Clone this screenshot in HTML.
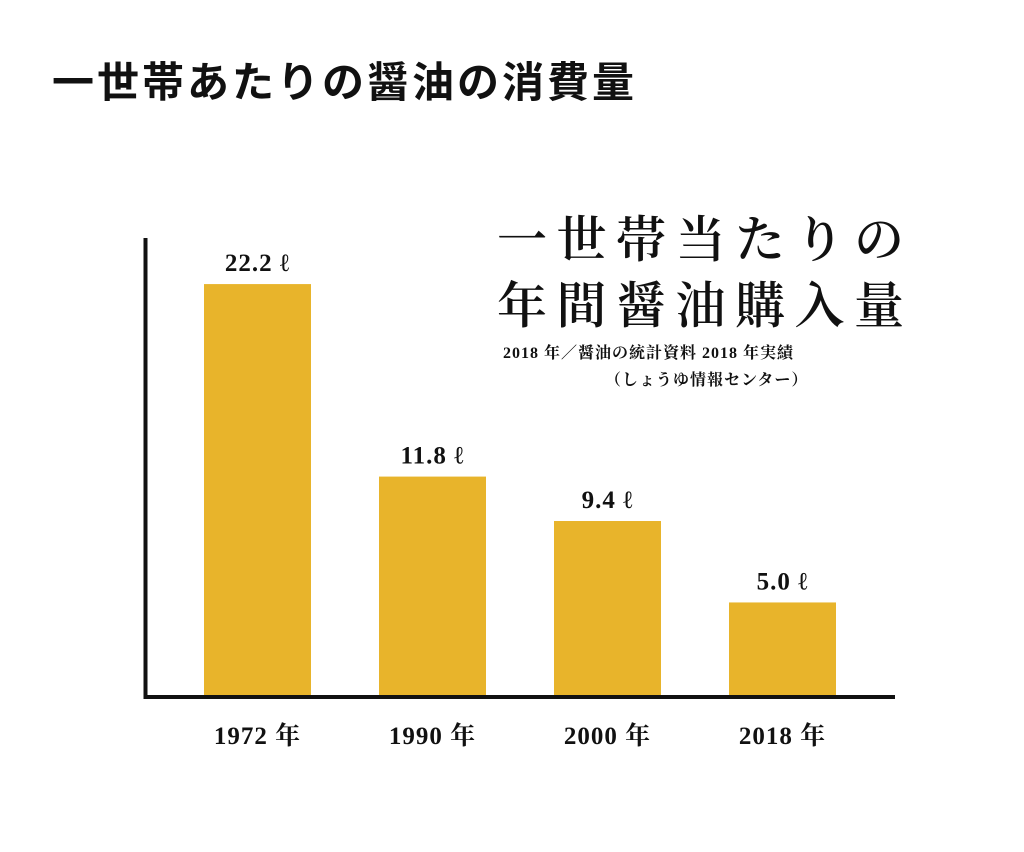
<!DOCTYPE html>
<html><head><meta charset="utf-8"><style>
body{margin:0;background:#fff;width:1024px;height:852px;overflow:hidden}
svg{display:block}
.serif{font-family:"Liberation Serif","Noto Serif CJK SC",serif;font-weight:bold;fill:#111}
</style></head><body>
<svg id="chart" width="1024" height="852" viewBox="0 0 1024 852">
<text x="52" y="97" font-family="Liberation Sans,'Noto Sans CJK JP',sans-serif" font-weight="bold" font-size="42" letter-spacing="3" fill="#111">一世帯あたりの醤油の消費量</text>
<text x="497" y="257" font-family="'Noto Serif CJK SC',serif" font-weight="600" font-size="50" letter-spacing="9.5" fill="#111">一世帯当たりの</text>
<text x="497" y="323" font-family="'Noto Serif CJK SC',serif" font-weight="600" font-size="50" letter-spacing="9.5" fill="#111">年間醤油購入量</text>
<text x="503" y="358" class="serif" font-size="16" letter-spacing="1">2018 年／醤油の統計資料 2018 年実績</text>
<text x="605" y="385" class="serif" font-size="16" letter-spacing="1">（しょうゆ情報センター）</text>
<g id="bars"></g>
<line x1="145.5" y1="238" x2="145.5" y2="699" stroke="#111" stroke-width="4"/>
<line x1="144" y1="697" x2="895" y2="697" stroke="#111" stroke-width="4"/>
</svg>
<script>
const categories=["1972 年","1990 年","2000 年","2018 年"];
const values=[22.2,11.8,9.4,5.0];
const valueLabels=["22.2 ℓ","11.8 ℓ","9.4 ℓ","5.0 ℓ"];
const NS="http://www.w3.org/2000/svg";
const base=695, scale=18.51;
const xBand=i=>204+i*175, bw=107;
const y=v=>base-v*scale;
const g=document.getElementById('bars');
categories.forEach((c,i)=>{
  const r=document.createElementNS(NS,'rect');
  r.setAttribute('x',xBand(i));r.setAttribute('y',y(values[i]));
  r.setAttribute('width',bw);r.setAttribute('height',base-y(values[i]));
  r.setAttribute('fill','#E8B42B');
  
  
  g.appendChild(r);
  const t=document.createElementNS(NS,'text');
  t.setAttribute('x',xBand(i)+bw/2);t.setAttribute('y',y(values[i])-13);
  t.setAttribute('text-anchor','middle');t.setAttribute('class','serif');t.setAttribute('font-size','25');t.setAttribute('letter-spacing','1');
  t.textContent=valueLabels[i];
  
  
  g.appendChild(t);
  const l=document.createElementNS(NS,'text');
  l.setAttribute('x',xBand(i)+bw/2);l.setAttribute('y',744);
  l.setAttribute('text-anchor','middle');l.setAttribute('class','serif');l.setAttribute('font-size','25');l.setAttribute('letter-spacing','1');
  l.textContent=c;
  
  
  g.appendChild(l);
});
</script>
</body></html>
